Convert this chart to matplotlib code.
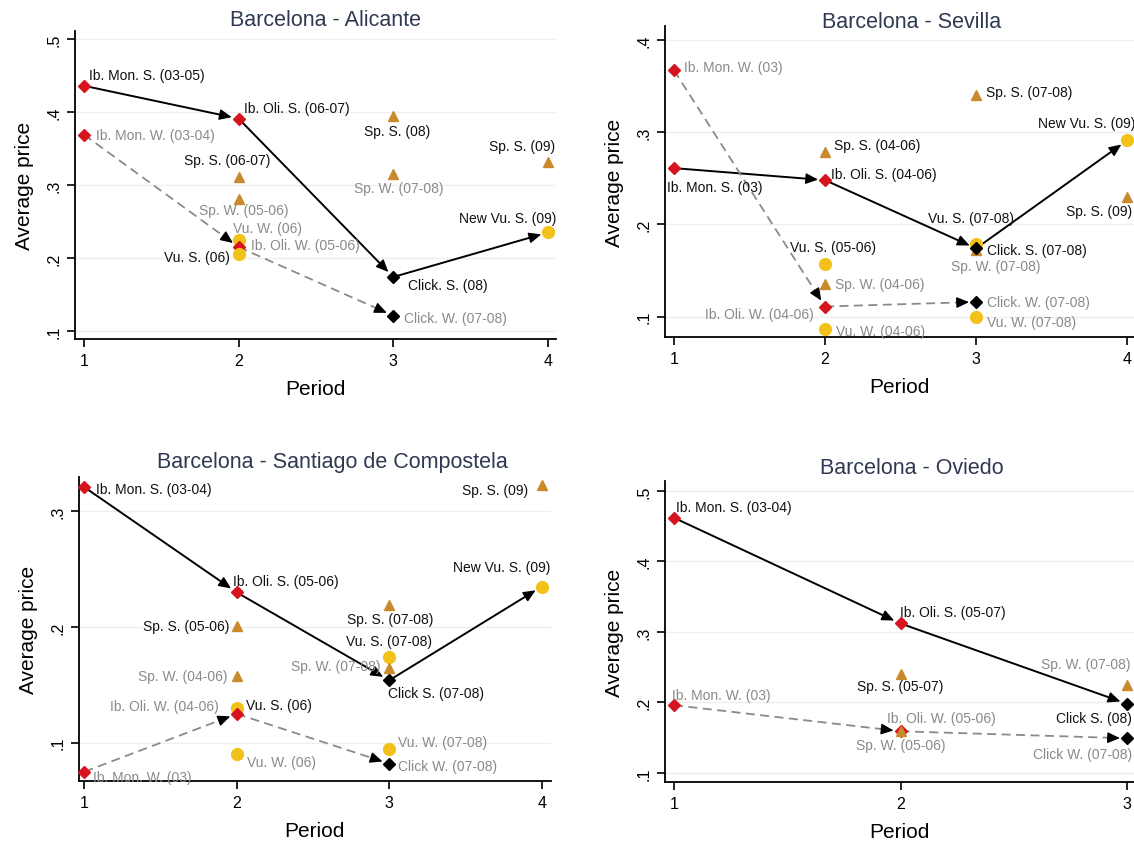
import numpy as np
import matplotlib.pyplot as plt

plt.rcParams['font.family'] = ['Liberation Sans', 'DejaVu Sans']

# ---- data: (label, period, average price) for each route ----
ali_labels = ["Ib. Mon. S. (03-05)", "Ib. Mon. W. (03-04)", "Ib. Oli. S. (06-07)", "Sp. S. (06-07)",
              "Sp. W. (05-06)", "Vu. W. (06)", "Ib. Oli. W. (05-06)", "Vu. S. (06)",
              "Sp. S. (08)", "Sp. W. (07-08)", "Click. S. (08)", "Click. W. (07-08)",
              "Sp. S. (09)", "New Vu. S. (09)"]
ali_period = [1, 1, 2, 2, 2, 2, 2, 2, 3, 3, 3, 3, 4, 4]
ali_price = [0.436, 0.369, 0.391, 0.311, 0.281, 0.224, 0.215, 0.205,
             0.395, 0.315, 0.174, 0.121, 0.331, 0.235]
ali_summer = ["Ib. Mon. S. (03-05)", "Ib. Oli. S. (06-07)", "Click. S. (08)", "New Vu. S. (09)"]
ali_winter = ["Ib. Mon. W. (03-04)", "Ib. Oli. W. (05-06)", "Click. W. (07-08)"]

sev_labels = ["Ib. Mon. W. (03)", "Ib. Mon. S. (03)", "Sp. S. (04-06)", "Ib. Oli. S. (04-06)",
              "Vu. S. (05-06)", "Sp. W. (04-06)", "Ib. Oli. W. (04-06)", "Vu. W. (04-06)",
              "Sp. S. (07-08)", "Vu. S. (07-08)", "Sp. W. (07-08)", "Click. S. (07-08)",
              "Click. W. (07-08)", "Vu. W. (07-08)", "New Vu. S. (09)", "Sp. S. (09)"]
sev_period = [1, 1, 2, 2, 2, 2, 2, 2, 3, 3, 3, 3, 3, 3, 4, 4]
sev_price = [0.367, 0.261, 0.278, 0.248, 0.157, 0.135, 0.111, 0.087,
             0.340, 0.179, 0.172, 0.174, 0.116, 0.100, 0.291, 0.230]
sev_summer = ["Ib. Mon. S. (03)", "Ib. Oli. S. (04-06)", "Click. S. (07-08)", "New Vu. S. (09)"]
sev_winter = ["Ib. Mon. W. (03)", "Ib. Oli. W. (04-06)", "Click. W. (07-08)"]

san_labels = ["Ib. Mon. S. (03-04)", "Ib. Mon. W. (03)", "Ib. Oli. S. (05-06)", "Sp. S. (05-06)",
              "Sp. W. (04-06)", "Vu. S. (06)", "Ib. Oli. W. (04-06)", "Vu. W. (06)",
              "Sp. S. (07-08)", "Vu. S. (07-08)", "Sp. W. (07-08)", "Click S. (07-08)",
              "Vu. W. (07-08)", "Click W. (07-08)", "Sp. S. (09)", "New Vu. S. (09)"]
san_period = [1, 1, 2, 2, 2, 2, 2, 2, 3, 3, 3, 3, 3, 3, 4, 4]
san_price = [0.321, 0.075, 0.230, 0.201, 0.158, 0.130, 0.125, 0.090,
             0.219, 0.174, 0.165, 0.154, 0.095, 0.082, 0.323, 0.235]
san_summer = ["Ib. Mon. S. (03-04)", "Ib. Oli. S. (05-06)", "Click S. (07-08)", "New Vu. S. (09)"]
san_winter = ["Ib. Mon. W. (03)", "Ib. Oli. W. (04-06)", "Click W. (07-08)"]

ovi_labels = ["Ib. Mon. S. (03-04)", "Ib. Mon. W. (03)", "Ib. Oli. S. (05-07)", "Sp. S. (05-07)",
              "Ib. Oli. W. (05-06)", "Sp. W. (05-06)", "Sp. W. (07-08)", "Click S. (08)",
              "Click W. (07-08)"]
ovi_period = [1, 1, 2, 2, 2, 2, 3, 3, 3]
ovi_price = [0.462, 0.196, 0.312, 0.240, 0.159, 0.159, 0.224, 0.198, 0.149]
ovi_summer = ["Ib. Mon. S. (03-04)", "Ib. Oli. S. (05-07)", "Click S. (08)"]
ovi_winter = ["Ib. Mon. W. (03)", "Ib. Oli. W. (05-06)", "Click W. (07-08)"]

# ---- label placement (ha, dx px, dy px) ----
ali_pos = [("left", 5, 11), ("left", 12, 0), ("left", 5, 11), ("center", -11, 17),
           ("center", 5, -11), ("left", -6, 12), ("left", 12, 2), ("right", -9, -3),
           ("center", 4, -15), ("center", 5, -14), ("left", 15, -8), ("left", 11, -2),
           ("right", 7, 16), ("right", 8, 14)]
sev_pos = [("left", 10, 3), ("left", -7, -19), ("left", 9, 7), ("left", 6, 6),
           ("center", 8, 17), ("left", 10, 0), ("right", -11, -7), ("left", 11, -2),
           ("left", 10, 3), ("center", -5, 26), ("center", 20, -16), ("left", 11, -2),
           ("left", 11, 0), ("left", 11, -5), ("right", 8, 17), ("right", 5, -14)]
san_pos = [("left", 12, -2), ("left", 9, -5), ("left", -4, 11), ("right", -7, 0),
           ("right", -9, 0), ("left", 9, 3), ("right", -18, 8), ("left", 10, -8),
           ("center", 1, -14), ("center", 0, 16), ("right", -9, 2), ("left", -1, -13),
           ("left", 9, 7), ("left", 9, -2), ("right", -14, -5), ("right", 9, 20)]
ovi_pos = [("left", 2, 11), ("left", -2, 10), ("left", -1, 11), ("center", 0, -12),
           ("left", -14, 13), ("center", 0, -14), ("right", 4, 21), ("right", 5, -14),
           ("right", 5, -16)]

RED = "#d7141e"
GOLD = "#f3c21a"
SPAN = "#c98a2e"
GREY = "#8a8a8a"
TITLE = "#2f3a52"


def style_for(label):
    if label.startswith("Ib."):
        return dict(marker="D", color=RED, ms=6)
    if label.startswith("Click"):
        return dict(marker="D", color="black", ms=6)
    if label.startswith("Sp."):
        return dict(marker="^", color=SPAN, ms=6.5)
    return dict(marker="o", color=GOLD, ms=8.5)


def draw_arrow(ax, p0, p1, dashed):
    to_disp = ax.transData.transform
    to_data = ax.transData.inverted().transform
    a = to_disp(p0)
    b = to_disp(p1)
    u = (b - a) / np.hypot(*(b - a))
    tip = b - u * 7
    base = tip - u * 9
    seg = to_data(np.array([a, base]))
    if dashed:
        ax.plot(seg[:, 0], seg[:, 1], color=GREY, lw=1.3, dashes=(5, 3), zorder=2)
    else:
        ax.plot(seg[:, 0], seg[:, 1], color="black", lw=1.4, zorder=2)
    ax.annotate("", xy=to_data(tip), xytext=to_data(base - u * 1),
                arrowprops=dict(arrowstyle="-|>,head_length=0.75,head_width=0.33",
                                color="black", lw=1.0, shrinkA=0, shrinkB=0),
                zorder=3)


def panel(rect, xlim, ylim, yticks, labels, period, price, pos, summer, winter,
          title, title_xy):
    ax = fig.add_axes(rect)
    ax.set_xlim(*xlim)
    ax.set_ylim(*ylim)
    for s in ["top", "right"]:
        ax.spines[s].set_visible(False)
    for s in ["left", "bottom"]:
        ax.spines[s].set_linewidth(1.3)
    xt = list(range(1, int(xlim[1]) + 1))
    ax.set_xticks(xt)
    ax.set_xticklabels([str(v) for v in xt])
    ax.set_yticks(yticks)
    ax.set_yticklabels(["." + str(int(round(v * 10))) for v in yticks],
                       rotation=90, va="center")
    ax.tick_params(direction="out", length=6, width=1.2, labelsize=11.5, pad=4)
    ax.yaxis.grid(True, color="#eeeeee", lw=1)
    ax.set_axisbelow(True)
    ax.set_xlabel("Period", fontsize=15, labelpad=8)
    ax.set_ylabel("Average price", fontsize=15, labelpad=9)

    pts = {lab: (x, y) for lab, x, y in zip(labels, period, price)}
    for path, dashed in [(summer, False), (winter, True)]:
        for s, e in zip(path[:-1], path[1:]):
            draw_arrow(ax, pts[s], pts[e], dashed)

    for lab, x, y, (ha, dx, dy) in zip(labels, period, price, pos):
        st = style_for(lab)
        ax.plot([x], [y], linestyle="none", marker=st["marker"], color=st["color"],
                ms=st["ms"], mec=st["color"], zorder=4, clip_on=False)
        tc = GREY if " W. " in lab else "#111111"
        ax.annotate(lab, (x, y), xytext=(dx, dy), textcoords="offset pixels",
                    ha=ha, va="center", fontsize=10, color=tc, zorder=5,
                    annotation_clip=False)

    fig.text(title_xy[0] / 1134, 1 - title_xy[1] / 845, title, ha="center",
             va="center", fontsize=15.5, color=TITLE)
    return ax


fig = plt.figure(figsize=(11.34, 8.45), dpi=100)

panel([0.0661, 0.5976, 0.4242, 0.3645], (0.942, 4.052), (0.089, 0.511),
      [0.1, 0.2, 0.3, 0.4, 0.5], ali_labels, ali_period, ali_price, ali_pos,
      ali_summer, ali_winter, "Barcelona - Alicante", (326, 20))
panel([0.5864, 0.600, 0.4136, 0.368], (0.94, 4.046), (0.078, 0.415),
      [0.1, 0.2, 0.3, 0.4], sev_labels, sev_period, sev_price, sev_pos,
      sev_summer, sev_winter, "Barcelona - Sevilla", (912, 23))
panel([0.0697, 0.0746, 0.416, 0.36], (0.965, 4.06), (0.067, 0.330),
      [0.1, 0.2, 0.3], san_labels, san_period, san_price, san_pos,
      san_summer, san_winter, "Barcelona - Santiago de Compostela", (332, 463))
panel([0.5864, 0.0734, 0.4136, 0.356], (0.96, 3.031), (0.087, 0.514),
      [0.1, 0.2, 0.3, 0.4, 0.5], ovi_labels, ovi_period, ovi_price, ovi_pos,
      ovi_summer, ovi_winter, "Barcelona - Oviedo", (912, 469))

fig.savefig("out.png", dpi=100)
